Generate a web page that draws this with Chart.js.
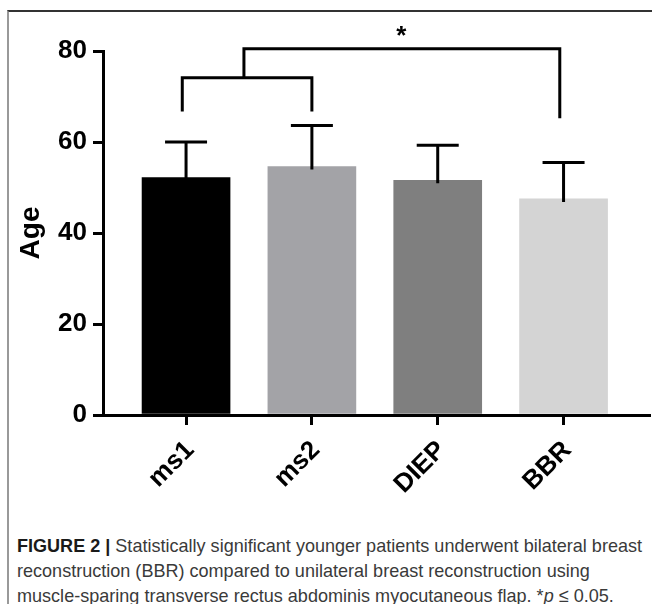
<!DOCTYPE html>
<html>
<head>
<meta charset="utf-8">
<script src="https://cdn.jsdelivr.net/npm/chart.js@4.4.1/dist/chart.umd.min.js"></script>
<style>
  html, body { margin: 0; padding: 0; background: #fff; }
  #page { position: relative; width: 652px; height: 604px; overflow: hidden; }
  #frame {
    position: absolute; left: 7px; top: 10px; right: 0; bottom: 0;
    border-top: 2px solid #333; border-left: 2px solid #999;
  }
  #wrap { position: absolute; left: 0; top: 0; width: 652px; height: 520px; }
  #caption {
    position: absolute; left: 17px; top: 533px;
    font-family: "Liberation Sans", Arial, sans-serif;
    font-size: 19px; line-height: 25px; color: #3a3a3a; white-space: nowrap;
    transform-origin: 0 0;
  }
  #caption b { color: #1a1a1a; }
</style>
</head>
<body>
<div id="page">
  <div id="frame"></div>
  <div id="wrap"><canvas id="ageChart"></canvas></div>
  <div id="caption"><span id="line1"><b>FIGURE 2 |</b> Statistically significant younger patients underwent bilateral breast</span><br>reconstruction (BBR) compared to unilateral breast reconstruction using<br>muscle-sparing transverse rectus abdominis myocutaneous flap. *<i>p</i> &le; 0.05.</div>
</div>
<script>
const groups = ['ms1', 'ms2', 'DIEP', 'BBR'];
const meanAge = [52.2, 54.6, 51.6, 47.5];
const sdAge = [7.8, 9.0, 7.7, 8.0];
const yTicks = [0, 20, 40, 60, 80];

// significance brackets (x in group positions 1..4, y in years)
const innerBracketX = [0.97, 0.97, 2, 2];
const innerBracketY = [66.7, 74.1, 74.1, 66.7];
const outerBracketX = [1.46, 1.46, 3.97, 3.97];
const outerBracketY = [74.1, 80.5, 80.5, 65.2];
const starMark = { x: 2.71, y: 84.2, text: '*' };

const barColors = ['#000000', '#a3a3a7', '#7f7f7f', '#d4d4d4'];
const FONT = '"Liberation Sans", Arial, sans-serif';

const toPoints = (xs, ys) => xs.map((x, i) => ({ x: x, y: ys[i] }));

// squeeze the caption to the narrow face of the original
const cap = document.getElementById('caption');
const w1 = document.getElementById('line1').getBoundingClientRect().width;
cap.style.transform = 'scaleX(' + (625 / w1).toFixed(4) + ')';

const errorBars = {
  id: 'errorBars',
  afterDatasetsDraw(chart) {
    const { ctx, scales: { x, y } } = chart;
    ctx.save();
    ctx.strokeStyle = '#000';
    ctx.lineWidth = 3;
    ctx.lineCap = 'butt';
    meanAge.forEach((m, i) => {
      const px = x.getPixelForValue(i + 1);
      const yTop = y.getPixelForValue(m + sdAge[i]);
      const yMean = y.getPixelForValue(m);
      ctx.beginPath();
      ctx.moveTo(px, yMean + 3);
      ctx.lineTo(px, yTop);
      ctx.moveTo(px - 21, yTop);
      ctx.lineTo(px + 21, yTop);
      ctx.stroke();
    });
    // significance star
    ctx.fillStyle = '#000';
    ctx.font = 'bold 26px ' + FONT;
    ctx.textAlign = 'center';
    ctx.textBaseline = 'middle';
    ctx.fillText(starMark.text, x.getPixelForValue(starMark.x), y.getPixelForValue(starMark.y) + 5);
    ctx.restore();
  },
};

const bracketStyle = {
  type: 'line',
  borderColor: '#000',
  borderWidth: 3,
  pointRadius: 0,
  fill: false,
  tension: 0,
  clip: false,
  borderJoinStyle: 'miter',
};

new Chart(document.getElementById('ageChart'), {
  type: 'bar',
  data: {
    datasets: [
      {
        data: toPoints(groups.map((g, i) => i + 1), meanAge),
        backgroundColor: barColors,
        borderWidth: 0,
        barThickness: 88,
        order: 2,
      },
      { ...bracketStyle, data: toPoints(innerBracketX, innerBracketY), order: 1 },
      { ...bracketStyle, data: toPoints(outerBracketX, outerBracketY), order: 1 },
    ],
  },
  options: {
    responsive: true,
    maintainAspectRatio: false,
    animation: false,
    layout: { padding: { top: 51, right: 3, bottom: 0, left: 0 } },
    plugins: { legend: { display: false }, tooltip: { enabled: false } },
    scales: {
      x: {
        type: 'linear',
        offset: false,
        min: 0.34,
        max: 4.679,
        afterBuildTicks: (axis) => {
          axis.ticks = groups.map((g, i) => ({ value: i + 1 }));
        },
        afterFit: (axis) => { axis.height = 105; },
        grid: { offset: false, drawOnChartArea: false, color: '#000', lineWidth: 3, tickLength: 10 },
        border: { color: '#000', width: 3 },
        ticks: {
          autoSkip: false,
          minRotation: 45,
          maxRotation: 45,
          padding: 10,
          labelOffset: 4,
          color: '#000',
          font: { family: FONT, size: 26, weight: 'bold' },
          callback: (value) => groups[value - 1],
        },
      },
      y: {
        min: 0,
        max: 80,
        afterBuildTicks: (axis) => {
          axis.ticks = yTicks.map((v) => ({ value: v }));
        },
        afterFit: (axis) => { axis.width = 103; },
        grid: { drawOnChartArea: false, color: '#000', lineWidth: 3, tickLength: 10 },
        border: { color: '#000', width: 3 },
        ticks: {
          padding: 6,
          color: '#000',
          font: { family: FONT, size: 26, weight: 'bold' },
        },
        title: {
          display: true,
          text: 'Age',
          color: '#000',
          padding: { top: 14, bottom: 0 },
          font: { family: FONT, size: 28, weight: 'bold' },
        },
      },
    },
  },
  plugins: [errorBars],
});
</script>
</body>
</html>
